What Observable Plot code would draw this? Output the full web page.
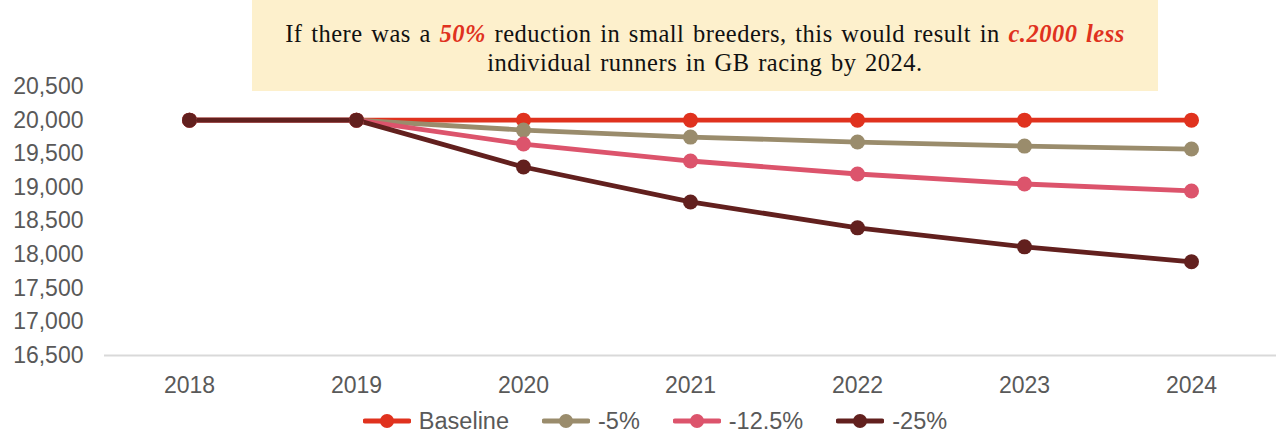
<!DOCTYPE html>
<html>
<head>
<meta charset="utf-8">
<script src="https://cdn.jsdelivr.net/npm/d3@7"></script>
<script src="https://cdn.jsdelivr.net/npm/@observablehq/plot@0.6"></script>
<style>
  body { margin: 0; background: #fff; width: 1276px; height: 433px; overflow: hidden; position: relative; font-family: "Liberation Sans", Arial, sans-serif; }
  #chart { position: absolute; left: 0; top: 0; }
  #title { position: absolute; left: 252px; top: 0; width: 906px; height: 91px; background: #fdf0cc; box-sizing: border-box;
    font-family: "Liberation Serif", "DejaVu Serif", serif; font-size: 24.5px; line-height: 28.5px; letter-spacing: 0.5px; word-spacing: 2px;
    color: #111; text-align: center; padding-top: 20px; white-space: nowrap; }
  #title b { color: #e0321e; font-style: italic; }
  #legend { position: absolute; left: 0; top: 407px; width: 1276px; height: 28px; display: flex; justify-content: center; align-items: center; gap: 33px;
    font-size: 23.5px; color: #595959; padding-left: 34px; box-sizing: border-box; }
  .item { display: flex; align-items: center; gap: 8px; }
</style>
</head>
<body>
<div id="chart"></div>
<div id="title">If there was a <b>50%</b> reduction in small breeders, this would result in <b>c.2000 less</b><br>individual runners in GB racing by 2024.</div>
<div id="legend"></div>
<script>
const years = ["2018", "2019", "2020", "2021", "2022", "2023", "2024"];
const seriesNames = ["Baseline", "-5%", "-12.5%", "-25%"];
const seriesColors = ["#e0321e", "#9a8c6c", "#dc546c", "#62201e"];
const baseline = [20000, 20000, 20000, 20000, 20000, 20000, 20000];
const minus5 = [20000, 20000, 19852, 19748, 19674, 19614, 19570];
const minus12_5 = [20000, 20000, 19644, 19392, 19199, 19050, 18947];
const minus25 = [20000, 20000, 19303, 18783, 18398, 18116, 17893];
const yTicks = [16500, 17000, 17500, 18000, 18500, 19000, 19500, 20000, 20500];

const seriesValues = [baseline, minus5, minus12_5, minus25];
const data = [];
seriesNames.forEach((s, i) => years.forEach((y, j) => data.push({series: s, year: y, value: seriesValues[i][j]})));

const plot = Plot.plot({
  width: 1276,
  height: 406,
  marginLeft: 104,
  marginRight: 0,
  marginTop: 86,
  marginBottom: 51,
  style: { fontFamily: "'Liberation Sans', Arial, sans-serif", fontSize: "23px", color: "#595959", background: "transparent" },
  x: { type: "point", domain: years, padding: 0.5, label: null, tickSize: 0, tickPadding: 21 },
  y: { domain: [16500, 20500], ticks: yTicks, tickFormat: d3.format(","), label: null, tickSize: 0, tickPadding: 21 },
  color: { domain: seriesNames, range: seriesColors },
  marks: [
    Plot.ruleY([16500], { stroke: "#d9d9d9", strokeWidth: 2 }),
    Plot.line(data, { x: "year", y: "value", z: "series", stroke: "series", strokeWidth: 4.8 }),
    Plot.dot(data, { x: "year", y: "value", fill: "series", r: 7.5 })
  ]
});
document.getElementById("chart").appendChild(plot);

const legend = document.getElementById("legend");
seriesNames.forEach((s, i) => {
  const item = document.createElement("div");
  item.className = "item";
  item.innerHTML = `<svg width="48" height="16"><line x1="2" y1="8" x2="46" y2="8" stroke="${seriesColors[i]}" stroke-width="4.8" stroke-linecap="round"/><circle cx="24" cy="8" r="7" fill="${seriesColors[i]}"/></svg><span>${s}</span>`;
  legend.appendChild(item);
});
</script>
</body>
</html>
